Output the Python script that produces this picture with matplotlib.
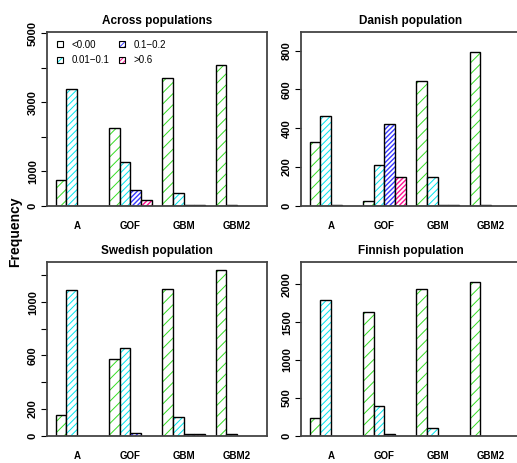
import numpy as np
import matplotlib.pyplot as plt
from matplotlib.patches import Patch

plt.rcParams['font.family'] = ['Liberation Sans', 'DejaVu Sans']
plt.rcParams['hatch.linewidth'] = 0.7

groups = ['A', 'GOF', 'GBM', 'GBM2']
classes = ['<0.00', '0.01\u22120.1', '0.1\u22120.2', '>0.6']

# bar heights per class, one value per group (A, GOF, GBM, GBM2)
across_neg = [750, 2245, 3700, 4095]
across_low = [3390, 1272, 367, 15]
across_mid = [0, 453, 15, 0]
across_high = [0, 165, 15, 0]

danish_neg = [328, 24, 646, 795]
danish_low = [465, 211, 149, 4]
danish_mid = [4, 421, 4, 0]
danish_high = [0, 149, 4, 0]

swedish_neg = [155, 577, 1097, 1243]
swedish_low = [1089, 659, 135, 8]
swedish_mid = [0, 20, 8, 0]
swedish_high = [0, 0, 8, 0]

finnish_neg = [238, 1640, 1940, 2033]
finnish_low = [1791, 397, 98, 0]
finnish_mid = [0, 15, 0, 0]
finnish_high = [0, 0, 0, 0]

colors = ['#33dd22', '#00e5ee', '#3a3aff', '#ff1493']
hatches = ['///', '/////', '///////', '///////']
hatch_lw = [0.7, 0.7, 1.0, 1.0]

W, H = 517, 463
fig = plt.figure(figsize=(W / 100, H / 100), dpi=100)

def px_axes(left, top, width, height):
    return fig.add_axes([left / W, (H - top - height) / H, width / W, height / H])

panels = [
    ('Across populations', [across_neg, across_low, across_mid, across_high],
     5040, [0, 1000, 2000, 3000, 4000, 5000], [0, 1000, 3000, 5000], (47, 32)),
    ('Danish population', [danish_neg, danish_low, danish_mid, danish_high],
     897, [0, 200, 400, 600, 800], [0, 200, 400, 600, 800], (301, 32)),
    ('Swedish population', [swedish_neg, swedish_low, swedish_mid, swedish_high],
     1301, [0, 200, 400, 600, 800, 1000, 1200], [0, 200, 600, 1000], (47, 262)),
    ('Finnish population', [finnish_neg, finnish_low, finnish_mid, finnish_high],
     2297, [0, 500, 1000, 1500, 2000], [0, 500, 1000, 1500, 2000], (301, 262)),
]

for i, (title, series, ymax, ticks, shown, (l, t)) in enumerate(panels):
    ax = px_axes(l, t, 220, 173.5)
    starts = 1 + np.arange(len(groups)) * 5
    for j, vals in enumerate(series):
        v = np.array(vals, dtype=float)
        v[v == 0] = np.nan
        x = starts + j
        with plt.rc_context({'hatch.linewidth': hatch_lw[j]}):
            ax.bar(x, v, width=1, align='edge', color='white',
                   edgecolor=colors[j], hatch=hatches[j], linewidth=0)
        ax.bar(x, v, width=1, align='edge', fill=False,
               edgecolor='black', linewidth=1.0)
    ax.set_xlim(0.2, 20.8)
    ax.set_ylim(0, ymax)
    ax.set_xticks(starts + 2)
    ax.set_xticklabels(groups, fontsize=7, fontweight='bold')
    ax.tick_params(axis='x', length=0, pad=11)
    ax.set_yticks(ticks)
    ax.set_yticklabels([str(tk) if tk in shown else '' for tk in ticks],
                       fontsize=8, fontweight='bold', rotation=90, va='center')
    ax.tick_params(axis='y', length=4, width=0.8, pad=2.5)
    for s in ax.spines.values():
        s.set_color('#444444')
        s.set_linewidth(1.3)
    ax.set_title(title, fontsize=8.5, fontweight='bold', pad=6)
    if i == 0:
        handles = []
        for c, h, hl in zip(colors, hatches, hatch_lw):
            with plt.rc_context({'hatch.linewidth': hl}):
                hp = Patch(facecolor='white', edgecolor=c, hatch=h, linewidth=0)
            handles.append((hp, Patch(fill=False, edgecolor='black', linewidth=0.8)))
        ax.legend(handles, classes, ncol=2, frameon=False, fontsize=7,
                  loc='upper left', bbox_to_anchor=(0.02, 0.99),
                  handlelength=0.6, handleheight=0.6, handletextpad=0.9,
                  columnspacing=1.0, labelspacing=0.6, borderaxespad=0.2)

fig.text(15 / W, (H - 232) / H, 'Frequency', rotation=90, fontsize=10,
         fontweight='bold', ha='center', va='center')

fig.savefig('out.png', dpi=100)
